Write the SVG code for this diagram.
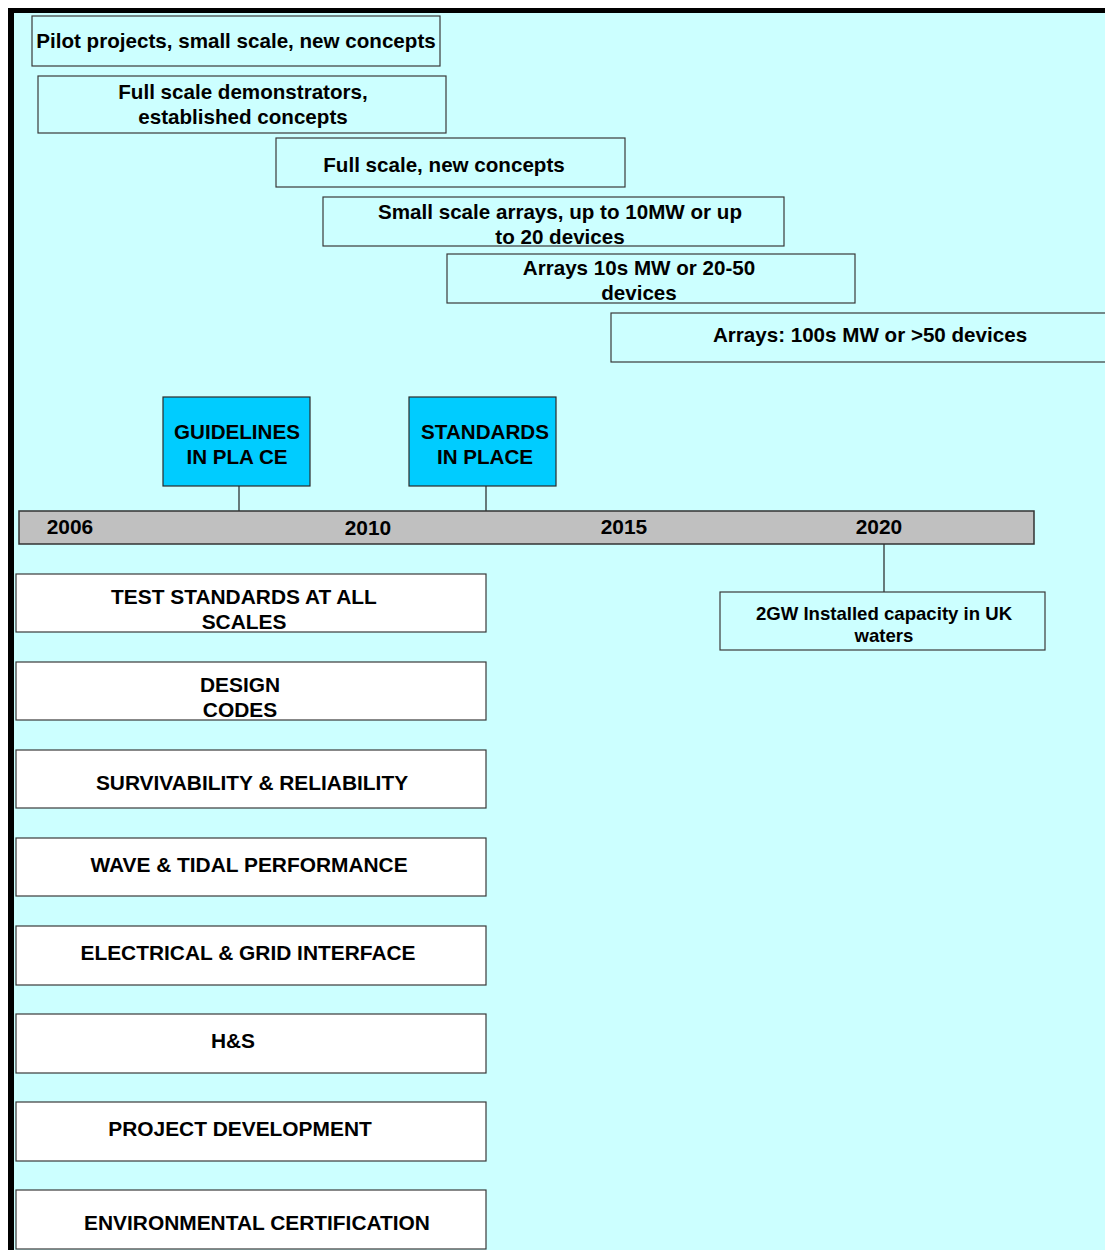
<svg xmlns="http://www.w3.org/2000/svg" width="1105" height="1250" viewBox="0 0 1105 1250">
  <style>
    text { font-family: "Liberation Sans", Arial, sans-serif; font-weight: bold; fill: #000; text-anchor: middle; }
    .t20 { font-size: 20.6px; }
    .t21 { font-size: 20.9px; }
    .t18 { font-size: 18.6px; }
    .phase { fill: #CCFFFF; stroke: #3a3a3a; stroke-width: 1.2; }
    .milestone { fill: #00CCFF; stroke: #2a2a2a; stroke-width: 1.2; }
    .topic { fill: #FFFFFF; stroke: #3a3a3a; stroke-width: 1.2; }
    .link { stroke: #222; stroke-width: 1.2; fill: none; }
  </style>

  <!-- page background and frame -->
  <rect x="0" y="0" width="1105" height="1250" fill="#FFFFFF"/>
  <rect x="8" y="8" width="1097" height="1242" fill="#000000"/>
  <rect x="14" y="13" width="1091" height="1237" fill="#CCFFFF"/>

  <!-- connectors -->
  <g id="connectors">
    <line class="link" x1="239" y1="486" x2="239" y2="515"/>
    <line class="link" x1="486" y1="486" x2="486" y2="511"/>
    <line class="link" x1="884" y1="543" x2="884" y2="592"/>
  </g>

  <!-- deployment phases -->
  <g id="phase-pilot">
    <rect class="phase" x="32" y="16" width="408" height="50"/>
    <text class="t20" x="236" y="48">Pilot projects, small scale, new concepts</text>
  </g>
  <g id="phase-demonstrators">
    <rect class="phase" x="38" y="76" width="408" height="57"/>
    <text class="t20" x="243" y="99">Full scale demonstrators,</text>
    <text class="t20" x="243" y="124">established concepts</text>
  </g>
  <g id="phase-full-scale">
    <rect class="phase" x="276" y="138" width="349" height="49"/>
    <text class="t20" x="444" y="172">Full scale, new concepts</text>
  </g>
  <g id="phase-small-arrays">
    <rect class="phase" x="323" y="197" width="461" height="49"/>
    <text class="t20" x="560" y="219">Small scale arrays, up to 10MW or up</text>
    <text class="t20" x="560" y="244">to 20 devices</text>
  </g>
  <g id="phase-arrays-10s">
    <rect class="phase" x="447" y="254" width="408" height="49"/>
    <text class="t20" x="639" y="275">Arrays 10s MW or 20-50</text>
    <text class="t20" x="639" y="300">devices</text>
  </g>
  <g id="phase-arrays-100s">
    <rect class="phase" x="611" y="313" width="500" height="49"/>
    <text class="t20" x="870" y="342">Arrays: 100s MW or &gt;50 devices</text>
  </g>

  <!-- milestones above the timeline -->
  <g id="milestone-guidelines">
    <rect class="milestone" x="163" y="397" width="147" height="89"/>
    <text class="t20" x="237" y="439">GUIDELINES</text>
    <text class="t20" x="237" y="464">IN PLA CE</text>
  </g>
  <g id="milestone-standards">
    <rect class="milestone" x="409" y="397" width="147" height="89"/>
    <text class="t20" x="485" y="439">STANDARDS</text>
    <text class="t20" x="485" y="464">IN PLACE</text>
  </g>

  <!-- timeline bar -->
  <g id="timeline">
    <rect x="19" y="511" width="1015" height="33" fill="#C0C0C0" stroke="#333" stroke-width="1.5"/>
    <text class="t21" x="70" y="534">2006</text>
    <text class="t21" x="368" y="535">2010</text>
    <text class="t21" x="624" y="534">2015</text>
    <text class="t21" x="879" y="534">2020</text>
  </g>

  <!-- target -->
  <g id="target-2gw">
    <rect class="phase" x="720" y="592" width="325" height="58"/>
    <text class="t18" x="884" y="620">2GW Installed capacity in UK</text>
    <text class="t18" x="884" y="642">waters</text>
  </g>

  <!-- work areas -->
  <g id="area-test-standards">
    <rect class="topic" x="16" y="574" width="470" height="58"/>
    <text class="t21" x="244" y="604">TEST STANDARDS AT ALL</text>
    <text class="t21" x="244" y="629">SCALES</text>
  </g>
  <g id="area-design-codes">
    <rect class="topic" x="16" y="662" width="470" height="58"/>
    <text class="t21" x="240" y="692">DESIGN</text>
    <text class="t21" x="240" y="717">CODES</text>
  </g>
  <g id="area-survivability">
    <rect class="topic" x="16" y="750" width="470" height="58"/>
    <text class="t21" x="252" y="790">SURVIVABILITY &amp; RELIABILITY</text>
  </g>
  <g id="area-performance">
    <rect class="topic" x="16" y="838" width="470" height="58"/>
    <text class="t21" x="249" y="872">WAVE &amp; TIDAL PERFORMANCE</text>
  </g>
  <g id="area-grid">
    <rect class="topic" x="16" y="926" width="470" height="59"/>
    <text class="t21" x="248" y="960">ELECTRICAL &amp; GRID INTERFACE</text>
  </g>
  <g id="area-hs">
    <rect class="topic" x="16" y="1014" width="470" height="59"/>
    <text class="t21" x="233" y="1048">H&amp;S</text>
  </g>
  <g id="area-project-dev">
    <rect class="topic" x="16" y="1102" width="470" height="59"/>
    <text class="t21" x="240" y="1136">PROJECT DEVELOPMENT</text>
  </g>
  <g id="area-environmental">
    <rect class="topic" x="16" y="1190" width="470" height="59"/>
    <text class="t21" x="257" y="1230">ENVIRONMENTAL CERTIFICATION</text>
  </g>
</svg>
